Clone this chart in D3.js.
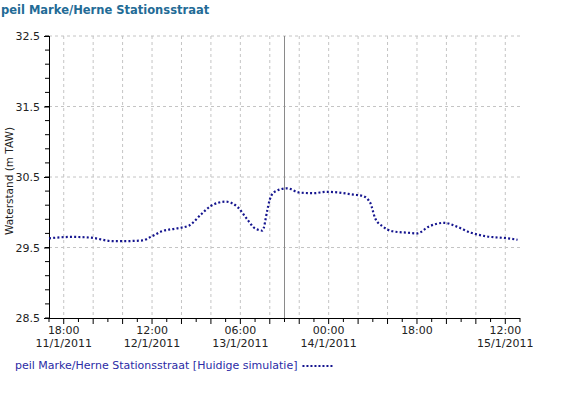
<!DOCTYPE html>
<html>
<head>
<meta charset="utf-8">
<script src="https://cdn.jsdelivr.net/npm/d3@7"></script>
<style>
  body { margin: 0; background: #fff; }
  text { font-family: "DejaVu Sans", Verdana, sans-serif; }
</style>
</head>
<body>
<div class="vis-linechart"></div>
<script>
// water level readings (time, m TAW)
const times = [
  "2011-01-11 15:00", "2011-01-11 19:30", "2011-01-11 23:30", "2011-01-12 04:00",
  "2011-01-12 06:00", "2011-01-12 10:00", "2011-01-12 12:00", "2011-01-12 14:00",
  "2011-01-12 17:00", "2011-01-12 19:30", "2011-01-12 22:00", "2011-01-13 00:00",
  "2011-01-13 03:00", "2011-01-13 05:30", "2011-01-13 07:30", "2011-01-13 09:00",
  "2011-01-13 10:30", "2011-01-13 11:30", "2011-01-13 12:00", "2011-01-13 13:00",
  "2011-01-13 15:30", "2011-01-13 18:00", "2011-01-13 21:00", "2011-01-13 23:30",
  "2011-01-14 02:00", "2011-01-14 05:00", "2011-01-14 07:00", "2011-01-14 08:30",
  "2011-01-14 09:30", "2011-01-14 11:00", "2011-01-14 13:00", "2011-01-14 16:00",
  "2011-01-14 18:00", "2011-01-14 20:30", "2011-01-14 23:30", "2011-01-15 02:00",
  "2011-01-15 05:00", "2011-01-15 08:00", "2011-01-15 12:30", "2011-01-15 14:30"
];
const levels = [
  29.63, 29.65, 29.64, 29.59,
  29.59, 29.60, 29.66, 29.73,
  29.77, 29.81, 29.97, 30.09,
  30.15, 30.07, 29.89, 29.77,
  29.74, 30.03, 30.18, 30.29,
  30.34, 30.28, 30.27, 30.29,
  30.28, 30.25, 30.23, 30.13,
  29.91, 29.80, 29.73, 29.71,
  29.70, 29.80, 29.85, 29.80,
  29.71, 29.66, 29.63, 29.61
];
const yTicks = [28.5, 29.5, 30.5, 31.5, 32.5];
const timeRange = ["2011-01-11 15:00", "2011-01-15 15:00"];
const nowTime = "2011-01-13 15:00";
const title = "peil Marke/Herne Stationsstraat";
const legendLabel = "peil Marke/Herne Stationsstraat [Huidige simulatie]";
const yLabel = "Waterstand (m TAW)";

const parse = d3.timeParse("%Y-%m-%d %H:%M");
const data = times.map((t, i) => ({ date: parse(t), value: levels[i] }));

const W = 568, H = 395;
const margin = { top: 36, right: 48, bottom: 77, left: 49 };
const width = W - margin.left - margin.right;
const height = H - margin.top - margin.bottom;

const root = d3.select(".vis-linechart").append("svg")
  .attr("width", W).attr("height", H);

root.append("text")
  .attr("x", 1).attr("y", 14)
  .attr("font-size", 11.5).attr("font-weight", "bold")
  .attr("fill", "#236b96")
  .text(title);

const svg = root.append("g")
  .attr("transform", "translate(" + margin.left + "," + margin.top + ")");

const x = d3.scaleTime().domain(timeRange.map(parse)).range([0, width]);
const y = d3.scaleLinear().domain([28.5, 32.5]).range([height, 0]);

const gridTimes = d3.timeHour.every(6).range(x.domain()[0], d3.timeMinute.offset(x.domain()[1], 1));
const minorTimes = d3.timeHour.every(3).range(x.domain()[0], d3.timeMinute.offset(x.domain()[1], 1));

// grid
svg.append("g").selectAll("line").data(gridTimes).join("line")
  .attr("x1", d => x(d)).attr("x2", d => x(d))
  .attr("y1", 0).attr("y2", height)
  .attr("stroke", "#c4c4c4").attr("stroke-dasharray", "3,3");
svg.append("g").selectAll("line").data(yTicks.slice(1)).join("line")
  .attr("x1", 0).attr("x2", width)
  .attr("y1", d => y(d)).attr("y2", d => y(d))
  .attr("stroke", "#c4c4c4").attr("stroke-dasharray", "3,3");

// now line
svg.append("line")
  .attr("x1", x(parse(nowTime))).attr("x2", x(parse(nowTime)))
  .attr("y1", 0).attr("y2", height)
  .attr("stroke", "#8a8a8a").attr("stroke-width", 1);

// y axis
const yMinor = d3.range(28.5, 32.51, 0.2);
svg.append("g").selectAll("line").data(yMinor).join("line")
  .attr("x1", -4).attr("x2", 0)
  .attr("y1", d => y(d)).attr("y2", d => y(d))
  .attr("stroke", "#000");
const yAxis = svg.append("g")
  .call(d3.axisLeft(y).tickValues(yTicks).tickFormat(d3.format(".1f")).tickSize(5).tickPadding(4));
yAxis.select(".domain").attr("d", "M0.5," + 0 + "V" + height);
yAxis.selectAll("text").attr("font-size", 11).attr("fill", "#222").attr("font-family", "DejaVu Sans");

// x axis
const xg = svg.append("g").attr("transform", "translate(0," + height + ")");
xg.append("line").attr("x1", -5).attr("x2", width).attr("y1", 0.5).attr("y2", 0.5).attr("stroke", "#000");
xg.selectAll(".minor").data(minorTimes).join("line")
  .attr("x1", d => x(d)).attr("x2", d => x(d))
  .attr("y1", 0).attr("y2", d => (d.getHours() % 6 === 0 ? 6 : 4))
  .attr("stroke", "#000");
const labelTicks = gridTimes.filter((d, i) => i % 3 === 0);
const fmtTime = d3.timeFormat("%H:%M");
const fmtDate = d => d.getDate() + "/" + (d.getMonth() + 1) + "/" + d.getFullYear();
const lbl = xg.selectAll(".lbl").data(labelTicks).join("text")
  .attr("text-anchor", "middle").attr("font-size", 11).attr("fill", "#222")
  .attr("transform", d => "translate(" + x(d) + ",0)");
lbl.append("tspan").attr("x", 0).attr("y", 16).text(fmtTime);
lbl.append("tspan").attr("x", 0).attr("y", 29)
  .text((d, i) => (i === 0 || fmtDate(d) !== fmtDate(labelTicks[i - 1]) ? fmtDate(d) : ""));

// y label
svg.append("text")
  .attr("transform", "translate(" + (13 - margin.left) + "," + (height / 2 + 4) + ") rotate(-90)")
  .attr("text-anchor", "middle").attr("font-size", 10.5).attr("fill", "#222")
  .text(yLabel);

// series
const line = d3.line().x(d => x(d.date)).y(d => y(d.value)).curve(d3.curveMonotoneX);
svg.append("path").datum(data)
  .attr("fill", "none").attr("stroke", "#15158f")
  .attr("stroke-width", 2.2).attr("stroke-dasharray", "2,2.2")
  .attr("d", line);

// legend
const leg = root.append("g").attr("transform", "translate(15,369)");
const legText = leg.append("text")
  .attr("font-size", 11).attr("fill", "#2b2ba6")
  .text(legendLabel);
const tw = legText.node().getComputedTextLength();
leg.append("line")
  .attr("x1", tw + 5).attr("x2", tw + 37).attr("y1", -3).attr("y2", -3)
  .attr("stroke", "#15158f").attr("stroke-width", 2).attr("stroke-dasharray", "2,2");
</script>
</body>
</html>
